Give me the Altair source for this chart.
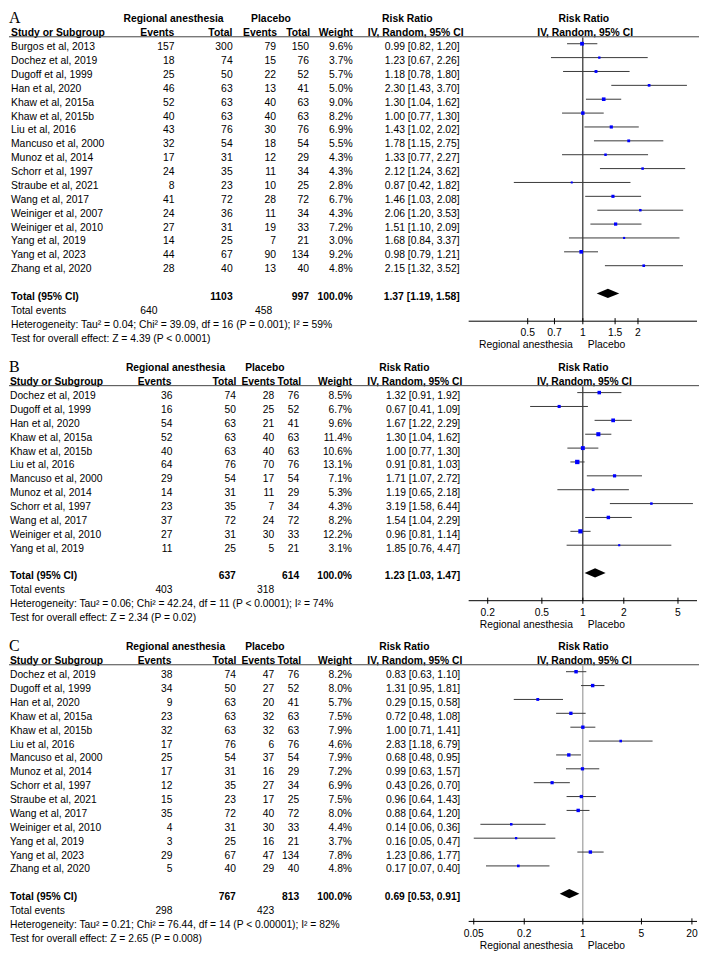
import altair as alt
import pandas as pd

FONT = "Liberation Sans"
W = 692            # chart width (px)
ROW = 14.15        # reference row pitch
F = 940 / 956      # vertical fit factor
X0, X1 = 461, 690  # forest plot x-range (px)
TDY = 3.5          # text offset below the row line

# ---------------- Panel A ----------------
names_A = ["Burgos et al, 2013", "Dochez et al, 2019", "Dugoff et al, 1999", "Han et al, 2020",
           "Khaw et al, 2015a", "Khaw et al, 2015b", "Liu et al, 2016", "Mancuso et al, 2000",
           "Munoz et al, 2014", "Schorr et al, 1997", "Straube et al, 2021", "Wang et al, 2017",
           "Weiniger et al, 2007", "Weiniger et al, 2010", "Yang et al, 2019", "Yang et al, 2023",
           "Zhang et al, 2020"]
ev_A = [157, 18, 25, 46, 52, 40, 43, 32, 17, 24, 8, 41, 24, 27, 14, 44, 28]
tot_A = [300, 74, 50, 63, 63, 63, 76, 54, 31, 35, 23, 72, 36, 31, 25, 67, 40]
pev_A = [79, 15, 22, 13, 40, 40, 30, 18, 12, 11, 10, 28, 11, 19, 7, 90, 13]
ptot_A = [150, 76, 52, 41, 63, 63, 76, 54, 29, 34, 25, 72, 34, 33, 21, 134, 40]
w_A = [9.6, 3.7, 5.7, 5.0, 9.0, 8.2, 6.9, 5.5, 4.3, 4.3, 2.8, 6.7, 4.3, 7.2, 3.0, 9.2, 4.8]
rr_A = [0.99, 1.23, 1.18, 2.30, 1.30, 1.00, 1.43, 1.78, 1.33, 2.12, 0.87, 1.46, 2.06, 1.51, 1.68, 0.98, 2.15]
lo_A = [0.82, 0.67, 0.78, 1.43, 1.04, 0.77, 1.02, 1.15, 0.77, 1.24, 0.42, 1.03, 1.20, 1.10, 0.84, 0.79, 1.32]
hi_A = [1.20, 2.26, 1.80, 3.70, 1.62, 1.30, 2.02, 2.75, 2.27, 3.62, 1.82, 2.08, 3.53, 2.09, 3.37, 1.21, 3.52]
totals_A = [1103, 997]
tev_A = [640, 458]
pooled_A = [1.37, 1.19, 1.58]
het_A = "Heterogeneity: Tau\u00b2 = 0.04; Chi\u00b2 = 39.09, df = 16 (P = 0.001); I\u00b2 = 59%"
test_A = "Test for overall effect: Z = 4.39 (P < 0.0001)"
ticks_A = [0.5, 0.7, 1, 1.5, 2]

# ---------------- Panel B ----------------
names_B = ["Dochez et al, 2019", "Dugoff et al, 1999", "Han et al, 2020", "Khaw et al, 2015a",
           "Khaw et al, 2015b", "Liu et al, 2016", "Mancuso et al, 2000", "Munoz et al, 2014",
           "Schorr et al, 1997", "Wang et al, 2017", "Weiniger et al, 2010", "Yang et al, 2019"]
ev_B = [36, 16, 54, 52, 40, 64, 29, 14, 23, 37, 27, 11]
tot_B = [74, 50, 63, 63, 63, 76, 54, 31, 35, 72, 31, 25]
pev_B = [28, 25, 21, 40, 40, 70, 17, 11, 7, 24, 30, 5]
ptot_B = [76, 52, 41, 63, 63, 76, 54, 29, 34, 72, 33, 21]
w_B = [8.5, 6.7, 9.6, 11.4, 10.6, 13.1, 7.1, 5.3, 4.3, 8.2, 12.2, 3.1]
rr_B = [1.32, 0.67, 1.67, 1.30, 1.00, 0.91, 1.71, 1.19, 3.19, 1.54, 0.96, 1.85]
lo_B = [0.91, 0.41, 1.22, 1.04, 0.77, 0.81, 1.07, 0.65, 1.58, 1.04, 0.81, 0.76]
hi_B = [1.92, 1.09, 2.29, 1.62, 1.30, 1.03, 2.72, 2.18, 6.44, 2.29, 1.14, 4.47]
totals_B = [637, 614]
tev_B = [403, 318]
pooled_B = [1.23, 1.03, 1.47]
het_B = "Heterogeneity: Tau\u00b2 = 0.06; Chi\u00b2 = 42.24, df = 11 (P < 0.0001); I\u00b2 = 74%"
test_B = "Test for overall effect: Z = 2.34 (P = 0.02)"
ticks_B = [0.2, 0.5, 1, 2, 5]

# ---------------- Panel C ----------------
names_C = ["Dochez et al, 2019", "Dugoff et al, 1999", "Han et al, 2020", "Khaw et al, 2015a",
           "Khaw et al, 2015b", "Liu et al, 2016", "Mancuso et al, 2000", "Munoz et al, 2014",
           "Schorr et al, 1997", "Straube et al, 2021", "Wang et al, 2017", "Weiniger et al, 2010",
           "Yang et al, 2019", "Yang et al, 2023", "Zhang et al, 2020"]
ev_C = [38, 34, 9, 23, 32, 17, 25, 17, 12, 15, 35, 4, 3, 29, 5]
tot_C = [74, 50, 63, 63, 63, 76, 54, 31, 35, 23, 72, 31, 25, 67, 40]
pev_C = [47, 27, 20, 32, 32, 6, 37, 16, 27, 17, 40, 30, 16, 47, 29]
ptot_C = [76, 52, 41, 63, 63, 76, 54, 29, 34, 25, 72, 33, 21, 134, 40]
w_C = [8.2, 8.0, 5.7, 7.5, 7.9, 4.6, 7.9, 7.2, 6.9, 7.5, 8.0, 4.4, 3.7, 7.8, 4.8]
rr_C = [0.83, 1.31, 0.29, 0.72, 1.00, 2.83, 0.68, 0.99, 0.43, 0.96, 0.88, 0.14, 0.16, 1.23, 0.17]
lo_C = [0.63, 0.95, 0.15, 0.48, 0.71, 1.18, 0.48, 0.63, 0.26, 0.64, 0.64, 0.06, 0.05, 0.86, 0.07]
hi_C = [1.10, 1.81, 0.58, 1.08, 1.41, 6.79, 0.95, 1.57, 0.70, 1.43, 1.20, 0.36, 0.47, 1.77, 0.40]
totals_C = [767, 813]
tev_C = [298, 423]
pooled_C = [0.69, 0.53, 0.91]
het_C = "Heterogeneity: Tau\u00b2 = 0.21; Chi\u00b2 = 76.44, df = 14 (P < 0.00001); I\u00b2 = 82%"
test_C = "Test for overall effect: Z = 2.65 (P = 0.008)"
ticks_C = [0.05, 0.2, 1, 5, 20]

# ---------------- layout (chart px) ----------------
cols_A = dict(name=2, ev=166, tot=224.3, pev=267.7, ptot=301, w=344.7, rr=452, tev=149, tpev=264)
hdr_A = dict(ra=165, pl=262.7, rr1=399.5, rr2=576.5, study=2, ev=148.7, tot=224, pev=251.7,
             ptot=302, w=345, iv1=407.8, iv2=577.8)
cols_BC = dict(name=1, ev=164, tot=227.5, pev=266, ptot=291, w=344, rr=452.5, tev=164, tpev=266)
hdr_BC = dict(ra=167, pl=256.6, rr1=396.5, rr2=576, study=1, ev=146, tot=228, pev=250,
              ptot=293, w=344, iv1=407, iv2=577)

panels = [
    dict(label="A", names=names_A, ev=ev_A, tot=tot_A, pev=pev_A, ptot=ptot_A, w=w_A, rr=rr_A,
         lo=lo_A, hi=hi_A, totals=totals_A, tev=tev_A, pooled=pooled_A, het=het_A, test=test_A,
         ticks=ticks_A, D=4.2, ref="#000000", top=0, bottom=348, row0=32, fs=10.4,
         cols=cols_A, hdr=hdr_A),
    dict(label="B", names=names_B, ev=ev_B, tot=tot_B, pev=pev_B, ptot=ptot_B, w=w_B, rr=rr_B,
         lo=lo_B, hi=hi_B, totals=totals_B, tev=tev_B, pooled=pooled_B, het=het_B, test=test_B,
         ticks=ticks_B, D=6.9, ref="#000000", top=348, bottom=632, row0=387, fs=10.3,
         cols=cols_BC, hdr=hdr_BC),
    dict(label="C", names=names_C, ev=ev_C, tot=tot_C, pev=pev_C, ptot=ptot_C, w=w_C, rr=rr_C,
         lo=lo_C, hi=hi_C, totals=totals_C, tev=tev_C, pooled=pooled_C, het=het_C, test=test_C,
         ticks=ticks_C, D=23, ref="#8a8a8a", top=632, bottom=956, row0=670.9, fs=10.3,
         cols=cols_BC, hdr=hdr_BC),
]


def ci_text(r, l, h):
    return f"{r:.2f} [{l:.2f}, {h:.2f}]"


def build_panel(p):
    n = len(p["names"])
    ktop = (p["top"] - p["row0"]) / ROW
    kbot = (p["bottom"] - p["row0"]) / ROW
    H = F * (p["bottom"] - p["top"])
    ysc = alt.Scale(domain=[ktop, kbot], range=[0, H], nice=False, zero=False)
    xsc = alt.Scale(type="log", domain=[1 / p["D"], p["D"]], range=[X0, X1], nice=False)
    fs = p["fs"]
    c, h = p["cols"], p["hdr"]
    k_tot, k_ev, k_het, k_test = n + 1, n + 2, n + 3, n + 4
    k_axis = n + 3

    layers = []

    def txt(df, field, x, align, bold=False, size=None, font=FONT, dy=TDY):
        return alt.Chart(df).mark_text(
            align=align, baseline="middle", font=font, fontSize=size or fs,
            fontWeight="bold" if bold else "normal", color="black", dy=dy
        ).encode(x=alt.value(x), y=alt.Y("k:Q", scale=ysc, axis=None), text=alt.Text(f"{field}:N"))

    def one(text, k, x, align, bold=False, size=None, font=FONT, dy=TDY):
        return txt(pd.DataFrame({"k": [k], "t": [text]}), "t", x, align, bold, size, font, dy)

    rows = pd.DataFrame({
        "k": list(range(n)),
        "name": p["names"],
        "ev": [str(v) for v in p["ev"]],
        "tot": [str(v) for v in p["tot"]],
        "pev": [str(v) for v in p["pev"]],
        "ptot": [str(v) for v in p["ptot"]],
        "wt": [f"{v:.1f}%" for v in p["w"]],
        "ci": [ci_text(r, l, hh) for r, l, hh in zip(p["rr"], p["lo"], p["hi"])],
        "rr": p["rr"], "lo": p["lo"], "hi": p["hi"], "w": p["w"],
    })

    # panel letter and headers
    layers.append(one(p["label"], -2, 0, "left", size=16, font="Liberation Serif", dy=2))
    layers.append(one("Regional anesthesia", -2, h["ra"], "center", True))
    layers.append(one("Placebo", -2, h["pl"], "center", True))
    layers.append(one("Risk Ratio", -2, h["rr1"], "center", True))
    layers.append(one("Risk Ratio", -2, h["rr2"], "center", True))
    layers.append(one("Study or Subgroup", -1, h["study"], "left", True))
    layers.append(one("Events", -1, h["ev"], "center", True))
    layers.append(one("Total", -1, h["tot"], "right", True))
    layers.append(one("Events", -1, h["pev"], "center", True))
    layers.append(one("Total", -1, h["ptot"], "right", True))
    layers.append(one("Weight", -1, h["w"], "right", True))
    layers.append(one("IV, Random, 95% CI", -1, h["iv1"], "center", True))
    layers.append(one("IV, Random, 95% CI", -1, h["iv2"], "center", True))

    # header underline
    layers.append(alt.Chart(pd.DataFrame({"k": [-0.5]})).mark_rule(color="#444444", strokeWidth=1).encode(
        x=alt.value(0), x2=alt.value(W), y=alt.Y("k:Q", scale=ysc, axis=None)))

    # study rows
    layers.append(txt(rows, "name", c["name"], "left"))
    layers.append(txt(rows, "ev", c["ev"], "right"))
    layers.append(txt(rows, "tot", c["tot"], "right"))
    layers.append(txt(rows, "pev", c["pev"], "right"))
    layers.append(txt(rows, "ptot", c["ptot"], "right"))
    layers.append(txt(rows, "wt", c["w"], "right"))
    layers.append(txt(rows, "ci", c["rr"], "right"))

    # totals
    pr, pl, ph = p["pooled"]
    layers.append(one("Total (95% CI)", k_tot, c["name"], "left", True))
    layers.append(one(str(p["totals"][0]), k_tot, c["tot"], "right", True))
    layers.append(one(str(p["totals"][1]), k_tot, c["ptot"], "right", True))
    layers.append(one("100.0%", k_tot, c["w"], "right", True))
    layers.append(one(ci_text(pr, pl, ph), k_tot, c["rr"], "right", True))
    layers.append(one("Total events", k_ev, c["name"], "left"))
    layers.append(one(str(p["tev"][0]), k_ev, c["tev"], "right"))
    layers.append(one(str(p["tev"][1]), k_ev, c["tpev"], "right"))
    layers.append(one(p["het"], k_het, c["name"], "left"))
    layers.append(one(p["test"], k_test, c["name"], "left"))

    # forest: reference line at 1
    layers.append(alt.Chart(pd.DataFrame({"x": [1], "k1": [-0.45], "k2": [k_axis]})).mark_rule(
        color=p["ref"], strokeWidth=1).encode(
        x=alt.X("x:Q", scale=xsc, axis=None),
        y=alt.Y("k1:Q", scale=ysc, axis=None), y2="k2:Q"))

    # confidence intervals
    layers.append(alt.Chart(rows).mark_rule(color="#3a3a3a", strokeWidth=1).encode(
        x=alt.X("lo:Q", scale=xsc, axis=None), x2="hi:Q",
        y=alt.Y("k:Q", scale=ysc, axis=None)))

    # study squares
    layers.append(alt.Chart(rows).mark_square(color="#0000ff", opacity=1).encode(
        x=alt.X("rr:Q", scale=xsc, axis=None),
        y=alt.Y("k:Q", scale=ysc, axis=None),
        size=alt.Size("w:Q", scale=alt.Scale(domain=[0, 15], range=[0, 22]), legend=None)))

    # pooled diamond
    half = 0.33
    dia = pd.DataFrame({"x": [pl, pr, ph],
                        "ya": [k_tot, k_tot - half, k_tot],
                        "yb": [k_tot, k_tot + half, k_tot]})
    layers.append(alt.Chart(dia).mark_area(color="black", orient="vertical").encode(
        x=alt.X("x:Q", scale=xsc, axis=None),
        y=alt.Y("ya:Q", scale=ysc, axis=None), y2="yb:Q"))

    # axis line, ticks, labels
    layers.append(alt.Chart(pd.DataFrame({"a": [1 / p["D"]], "b": [p["D"]], "k": [k_axis]})).mark_rule(
        color="black", strokeWidth=1).encode(
        x=alt.X("a:Q", scale=xsc, axis=None), x2="b:Q",
        y=alt.Y("k:Q", scale=ysc, axis=None)))
    tk = pd.DataFrame({"t": p["ticks"], "k1": [k_axis - 0.22] * len(p["ticks"]),
                       "k2": [k_axis + 0.22] * len(p["ticks"]),
                       "kl": [k_axis + 0.8] * len(p["ticks"])})
    layers.append(alt.Chart(tk).mark_rule(color="black", strokeWidth=1).encode(
        x=alt.X("t:Q", scale=xsc, axis=None),
        y=alt.Y("k1:Q", scale=ysc, axis=None), y2="k2:Q"))
    layers.append(alt.Chart(tk).mark_text(font=FONT, fontSize=fs, baseline="middle", align="center",
                                          color="black", dy=1).encode(
        x=alt.X("t:Q", scale=xsc, axis=None),
        y=alt.Y("kl:Q", scale=ysc, axis=None),
        text=alt.Text("t:Q", format="~g")))
    side = pd.DataFrame({"x": [1], "k": [k_axis + 1.68]})
    layers.append(alt.Chart(side).mark_text(font=FONT, fontSize=fs, baseline="middle", align="right",
                                            dx=-10, dy=1, color="black", text="Regional anesthesia").encode(
        x=alt.X("x:Q", scale=xsc, axis=None), y=alt.Y("k:Q", scale=ysc, axis=None)))
    layers.append(alt.Chart(side).mark_text(font=FONT, fontSize=fs, baseline="middle", align="left",
                                            dx=5, dy=1, color="black", text="Placebo").encode(
        x=alt.X("x:Q", scale=xsc, axis=None), y=alt.Y("k:Q", scale=ysc, axis=None)))

    return alt.layer(*layers).properties(width=W, height=H)


charts = [build_panel(p) for p in panels]
chart = alt.vconcat(*charts, spacing=0, bounds="flush").properties(
    padding=0, background="white"
).configure_view(stroke="transparent")

chart.save("out.html", embed_options={"renderer": "svg", "actions": False})
